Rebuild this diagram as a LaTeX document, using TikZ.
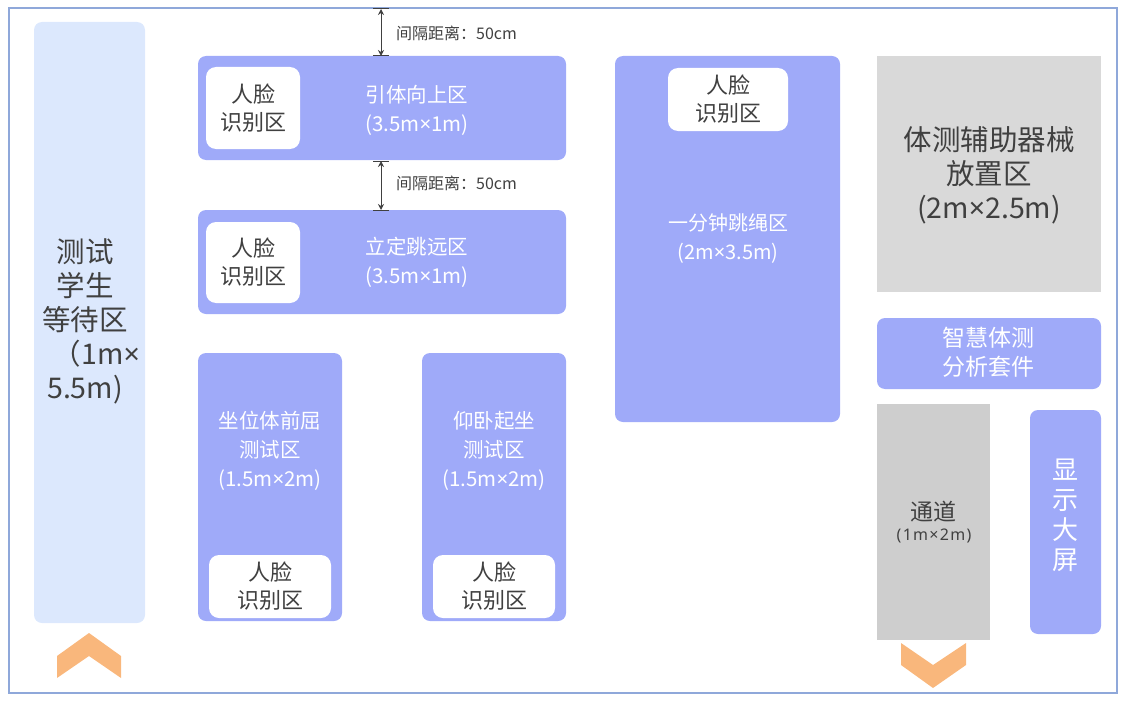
\documentclass[tikz,border=0pt]{standalone}
\usepackage{fontspec}
\setmainfont{Noto Sans CJK SC}
\newfontfamily\latinf{Noto Sans}
\newfontfamily\latinsp[LetterSpace=8]{Noto Sans}
\newcommand\mul{{\latinf ×}}
\usetikzlibrary{arrows.meta,calc}
\definecolor{zonec}{HTML}{9FAAF9}
\definecolor{waitc}{HTML}{DCE8FD}
\definecolor{grayc}{HTML}{D9D9D9}
\definecolor{framec}{HTML}{8FA8DA}
\definecolor{chevc}{HTML}{F9B77C}
\definecolor{darktext}{HTML}{404040}
\tikzset{
  zonebox/.style={fill=zonec, draw=none, rounded corners=8pt, inner sep=0pt},
  waitbox/.style={fill=waitc, draw=none, rounded corners=8pt, inner sep=0pt},
  graybox/.style={fill=grayc, draw=none, inner sep=0pt},
  facebox/.style={fill=white, draw=none, rounded corners=10pt, inner sep=0pt, text=darktext, align=center, font=\fontsize{22}{28}\selectfont},
  ztext/.style={text=white, align=center, font=\fontsize{20.5}{29}\selectfont},
  bigtext/.style={text=darktext, align=center, font=\fontsize{28.5}{34}\selectfont},
  gaptext/.style={text=darktext, anchor=west, inner sep=0pt, font=\fontsize{16}{16}\selectfont},
  gapline/.style={draw=darktext, line width=1pt, {Stealth[length=6pt,width=6pt]}-{Stealth[length=6pt,width=6pt]}},
  tick/.style={draw=darktext, line width=1pt},
  chev/.style={fill=chevc, draw=none}
}
\begin{document}
\begin{tikzpicture}[x=1pt,y=-1pt]
\useasboundingbox (0,0) rectangle (1127,701);
\draw[framec, line width=1.5pt] (9,8) rectangle (1117,693);

% waiting area
\node[waitbox, minimum width=111pt, minimum height=601pt] (wait) at (89.5,322.5) {};
\node[bigtext] (waitt) at (85,321) {测试\\学生\\等待区\\\hspace*{0.8em}（1m\mul\\5.5m)};

% chevrons
\fill[chev] (57,656) -- (89,633) -- (121,656) -- (121,678) -- (89,656) -- (57,678) -- cycle;
\fill[chev] (901,643) -- (933,665) -- (966,643) -- (966,665) -- (933,688) -- (901,665) -- cycle;

% pull-up
\node[zonebox, minimum width=368pt, minimum height=104pt] (pull) at (382,108) {};
\node[facebox, minimum width=94pt, minimum height=82pt] (pullf) at (253,108) {人脸\\识别区};
\node[ztext] (pullt) at (417,110) {引体向上区\\(3.5m\mul1m)};

% long jump
\node[zonebox, minimum width=368pt, minimum height=104pt] (jump) at (382,262) {};
\node[facebox, minimum width=94pt, minimum height=81pt] (jumpf) at (253,262.5) {人脸\\识别区};
\node[ztext] (jumpt) at (417,262) {立定跳远区\\(3.5m\mul1m)};

% gaps
\coordinate (g1a) at (381,9);
\coordinate (g1b) at (381,56);
\draw[tick] ($(g1a)+(-8,0)$) -- ($(g1a)+(8,0)$);
\draw[tick] ($(g1b)+(-8,0)$) -- ($(g1b)+(8,0)$);
\draw[gapline] (g1a) -- (g1b);
\node[gaptext] (g1t) at (396,33) {间隔距离：50cm};

\coordinate (g2a) at (381,161);
\coordinate (g2b) at (381,210);
\draw[tick] ($(g2a)+(-8,0)$) -- ($(g2a)+(8,0)$);
\draw[tick] ($(g2b)+(-8,0)$) -- ($(g2b)+(8,0)$);
\draw[gapline] (g2a) -- (g2b);
\node[gaptext] (g2t) at (396,183) {间隔距离：50cm};

% sit and reach
\node[zonebox, minimum width=144pt, minimum height=268pt] (sit) at (270,487) {};
\node[ztext] (sitt) at (270,451) {坐位体前屈\\测试区\\(1.5m\mul2m)};
\node[facebox, minimum width=122pt, minimum height=63pt] (sitf) at (270,586.5) {人脸\\识别区};

% sit-ups
\node[zonebox, minimum width=144pt, minimum height=268pt] (situp) at (494,487) {};
\node[ztext] (situpt) at (494,451) {仰卧起坐\\测试区\\(1.5m\mul2m)};
\node[facebox, minimum width=122pt, minimum height=63pt] (situpf) at (494,586.5) {人脸\\识别区};

% rope skipping
\node[zonebox, minimum width=225pt, minimum height=366pt] (rope) at (727.5,239) {};
\node[facebox, minimum width=120pt, minimum height=63pt] (ropef) at (728,99.5) {人脸\\识别区};
\node[ztext, font=\fontsize{20}{29}\selectfont] (ropet) at (728,239) {一分钟跳绳区\\(2m\mul3.5m)};

% equipment
\node[graybox, minimum width=224pt, minimum height=236pt] (equip) at (989,174) {};
\node[bigtext] (equipt) at (989,175) {体测辅助器械\\放置区\\(2m\mul2.5m)};

% analysis kit
\node[zonebox, minimum width=224pt, minimum height=71pt] (kit) at (989,353.5) {};
\node[ztext, font=\fontsize{23}{29}\selectfont] (kitt) at (988,352) {智慧体测\\分析套件};

% passage
\node[graybox, fill=grayc!95!black, minimum width=113pt, minimum height=236pt] (pass) at (933.5,522) {};
\node[text=darktext, align=center, font=\fontsize{23}{24}\selectfont] (passt) at (933,512) {通道};
\node[text=darktext, align=center, font=\fontsize{16}{16}\latinsp] (passs) at (934,536) {(1m×2m)};

% display
\node[zonebox, minimum width=71pt, minimum height=224pt] (screen) at (1065.5,522) {};
\node[ztext, font=\fontsize{26}{30}\selectfont] (screent) at (1065,515) {显\\示\\大\\屏};
\end{tikzpicture}
\end{document}
